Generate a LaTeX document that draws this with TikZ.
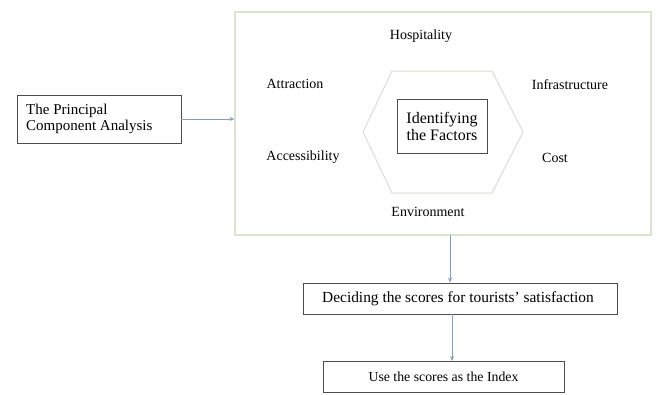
\documentclass[tikz,border=0pt]{standalone}
\usepackage{fontspec}
\setmainfont{Liberation Serif}
\usetikzlibrary{arrows.meta}
\definecolor{frame}{HTML}{DCE4CF}
\definecolor{hexc}{HTML}{DADDD2}
\definecolor{arr}{HTML}{8A9CB8}
\tikzset{
  fac/.style={font=\fontsize{14}{16}\selectfont, inner sep=0pt},
  box/.style={draw=black!70, line width=0.8pt, inner sep=0pt},
  conn/.style={draw=arr, line width=0.8pt, -{Stealth[length=5pt,width=4pt]}}
}
\begin{document}
\begin{tikzpicture}[x=1pt,y=-1pt]
\useasboundingbox (0,0) rectangle (656,394);
% left box
\node[box, minimum width=164pt, minimum height=48pt] (pca) at (99,119) {};
\node[font=\fontsize{15}{16.5}\selectfont, inner sep=0pt, align=left, anchor=west] at (26,119) {The Principal\\Component Analysis};
% big frame
\node[draw=frame, line width=1.2pt, minimum width=416pt, minimum height=223pt, inner sep=0pt] (frame) at (443,123.5) {};
% hexagon
\draw[draw=hexc, line width=1pt] (392,71) -- (492,71) -- (523,132) -- (492,193) -- (392,193) -- (363,132) -- cycle;
% inner box
\node[box, minimum width=90pt, minimum height=54pt] (ident) at (442,126) {};
\node[font=\fontsize{16}{17}\selectfont, inner sep=0pt, align=center] at (442,126) {Identifying\\the Factors};
% factors
\node[fac] (hosp) at (421,36) {Hospitality};
\node[fac] (attr) at (295,84) {Attraction};
\node[fac] (infra) at (570,85) {Infrastructure};
\node[fac] (acc) at (303,157) {Accessibility};
\node[fac] (cost) at (555,158) {Cost};
\node[fac] (env) at (428,212) {Environment};
% bottom boxes
\node[box, minimum width=314pt, minimum height=31pt] (dec) at (460,298.5) {};
\node[font=\fontsize{15.4}{17}\selectfont, inner sep=0pt] at (458,298.5) {Deciding the scores for tourists' satisfaction};
\node[box, minimum width=241pt, minimum height=31pt] (use) at (443.5,377) {};
\node[font=\fontsize{13.8}{15}\selectfont, inner sep=0pt] at (443.5,377) {Use the scores as the Index};
% connectors
\draw[conn] (pca.east) -- (frame.west |- pca.east);
\coordinate (f1) at (450,235);
\draw[conn] (f1) -- (f1 |- dec.north);
\coordinate (f2) at (452,314);
\draw[conn] (f2) -- (f2 |- use.north);
\end{tikzpicture}
\end{document}
